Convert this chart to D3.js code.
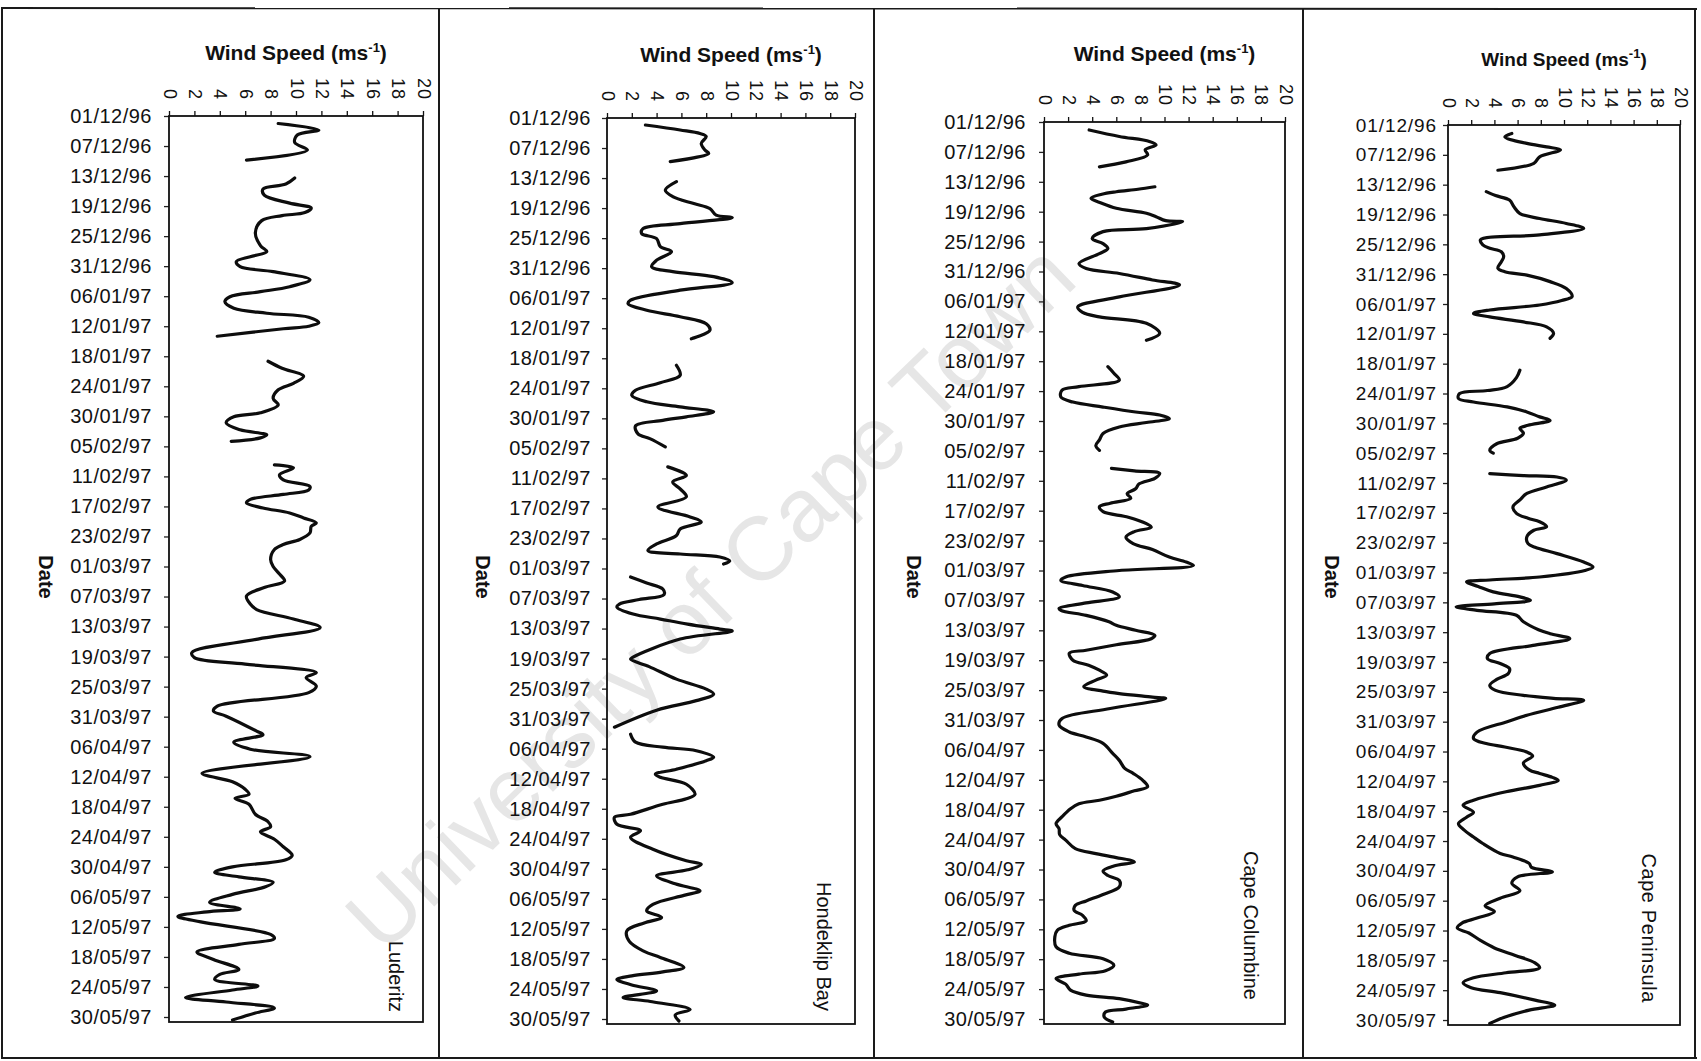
<!DOCTYPE html>
<html>
<head>
<meta charset="utf-8">
<script src="https://cdn.jsdelivr.net/npm/d3@7"></script>
<style>
  body { margin: 0; background: #fff; }
  svg { display: block; }
</style>
</head>
<body>
<svg id="chart" width="1701" height="1061"></svg>
<script>
// ---- Data -------------------------------------------------------------
// Daily mean wind speed (m/s) at four west-coast stations, 1 Dec 1996 - 30 May 1997.
// Each entry is [days since 01/12/96, speed]; null marks a break in the record.
const stations = ["Luderitz", "Hondeklip Bay", "Cape Columbine", "Cape Peninsula"];

const speedTicks = [0, 2, 4, 6, 8, 10, 12, 14, 16, 18, 20];

const dateTickLabels = [
  "01/12/96", "07/12/96", "13/12/96", "19/12/96", "25/12/96", "31/12/96",
  "06/01/97", "12/01/97", "18/01/97", "24/01/97", "30/01/97", "05/02/97",
  "11/02/97", "17/02/97", "23/02/97", "01/03/97", "07/03/97", "13/03/97",
  "19/03/97", "25/03/97", "31/03/97", "06/04/97", "12/04/97", "18/04/97",
  "24/04/97", "30/04/97", "06/05/97", "12/05/97", "18/05/97", "24/05/97",
  "30/05/97"
];

const luderitz = [
  [1.5,8.6],[2.8,11.8],[3.8,10.1],[5.3,9.9],[6.8,10.9],[8.8,6.1],
  null,
  [12.4,9.9],[13.6,9.2],[14.6,7.4],[15.8,7.5],[17.4,9.5],[18.4,11.2],[19.3,10.7],[19.9,8.9],
  [20.9,7.3],[23.3,6.8],[25.9,7.2],[27.1,7.7],[28.1,6.4],[29.1,5.3],[30.1,5.6],[31.1,8.2],
  [32.7,11.1],[34.1,9.5],[35.1,7.2],[36.1,4.8],[37.1,4.4],[38.4,5.1],[39.4,7.7],[40.2,11.0],
  [41.3,11.8],[42.0,11.0],[42.5,9.0],[44.0,3.8],
  null,
  [49.0,7.8],[50.4,8.9],[52.0,10.6],[53.4,9.8],[54.7,8.6],[56.4,8.2],[57.7,8.6],[59.3,7.2],
  [60.1,5.1],[61.3,4.5],[62.7,5.6],[63.7,7.7],[64.3,7.2],[65.0,4.9],
  null,
  [69.7,8.3],[70.3,9.8],[71.7,8.7],[72.7,9.0],[74.0,11.1],[74.7,11.0],[75.6,9.0],[76.6,6.4],
  [77.3,6.1],[78.3,7.4],[79.3,9.5],[80.3,10.6],[81.3,11.6],[82.0,11.2],[83.3,11.1],[84.6,10.3],
  [85.6,9.0],[86.6,8.3],[88.6,8.0],[90.0,8.2],[91.5,8.7],[92.9,9.1],[94.2,7.5],[95.9,6.1],
  [97.5,6.4],[98.6,6.9],[100.5,9.8],[102.2,11.9],[104.5,7.0],[107.2,1.8],[108.2,2.0],[109.5,6.0],
  [111.2,11.6],[112.2,10.8],[113.9,11.6],[115.2,11.0],[117.9,3.8],[118.9,3.5],[119.9,4.5],
  [122.9,6.9],[123.6,7.4],[125.1,5.1],[126.5,6.4],[128.0,11.1],[131.3,2.6],[133.0,5.0],
  [134.5,6.0],[135.5,6.3],[136.3,5.2],[137.5,6.3],[139.5,6.8],[141.0,7.8],[142.0,8.0],
  [143.0,7.2],[144.5,8.3],[146.0,9.0],[147.7,9.7],[148.6,9.2],[150.0,5.0],[151.1,3.6],
  [152.0,5.5],[153.1,8.2],[154.0,7.6],[155.5,5.0],[157.1,3.2],[158.4,5.6],[159.0,3.0],
  [159.9,0.7],[161.0,2.5],[163.5,8.0],[164.3,8.3],[165.5,5.5],[167.0,2.2],[168.5,3.5],
  [170.5,5.5],[171.5,4.0],[172.5,3.6],[173.8,7.0],[174.6,5.0],[176.1,1.3],[177.0,4.5],
  [178.2,8.3],[179.2,6.8],[180.6,5.0]
];

const hondeklipBay = [
  [1.4,3.1],[2.4,5.9],[3.1,7.5],[3.7,8.0],[5.1,7.6],[6.4,7.9],[7.1,8.2],[8.7,5.1],
  null,
  [12.7,5.6],[14.4,4.7],[15.7,5.3],[17.1,7.0],[18.1,8.3],[19.4,8.8],[19.9,10.1],[21.1,5.9],
  [22.1,2.9],[23.1,2.8],[24.1,4.0],[25.7,4.3],[26.7,5.2],[28.4,4.0],[29.7,3.6],[30.7,5.3],
  [31.7,8.6],[32.9,10.1],[34.4,5.9],[36.4,1.9],[37.1,1.7],[38.4,3.2],[39.7,5.9],[41.1,8.0],
  [42.4,8.3],[44.1,6.8],
  null,
  [49.4,5.6],[51.4,5.9],[52.9,4.3],[54.4,2.3],[55.4,2.0],[56.7,3.2],[57.7,5.9],[58.7,8.6],
  [59.7,6.4],[60.4,4.5],[61.5,2.3],[63.1,2.5],[64.1,3.5],[65.7,4.7],
  null,
  [69.7,4.9],[71.4,6.4],[72.7,5.3],[74.1,5.9],[75.7,6.4],[77.7,4.1],[79.7,6.7],[80.7,7.6],
  [82.1,5.9],[83.4,5.6],[85.1,4.0],[86.4,3.3],[87.1,5.9],[87.7,9.1],[88.5,9.9],[89.1,9.4],
  null,
  [91.7,1.9],[92.9,3.2],[94.1,4.5],[95.2,4.6],[96.2,2.6],[97.1,1.0],[97.7,0.8],[99.1,2.1],
  [100.1,4.3],[101.1,6.5],[102.1,9.1],[102.5,10.1],[104.1,5.9],[107.7,2.1],[108.1,1.9],
  [109.6,3.4],[112.1,5.6],[114.1,8.0],[115.1,8.6],[116.4,7.2],[118.3,4.0],[121.7,0.6],
  null,
  [123.1,1.9],[124.7,2.3],[125.7,4.5],[126.4,7.2],[127.7,8.6],[128.4,8.0],[130.1,5.6],
  [131.1,3.9],[131.7,4.3],[133.1,6.4],[135.1,7.1],[136.0,6.4],[137.1,4.5],[139.1,1.9],
  [139.7,0.6],[141.1,0.8],[142.4,2.7],[143.7,1.9],[146.1,3.7],[148.4,6.4],[149.1,7.6],
  [150.2,6.5],[151.4,4.0],[153.0,5.5],[154.4,7.5],[155.3,6.2],[157.1,3.7],[158.4,3.2],
  [159.7,4.4],[160.8,3.0],[162.4,1.6],[164.5,1.8],[166.5,3.0],[167.7,4.3],[169.7,6.2],
  [170.6,4.5],[171.4,2.0],[172.1,0.8],[173.2,2.0],[174.4,4.0],[175.7,1.3],[176.5,3.5],
  [178.1,6.7],[179.2,5.5],[180.4,5.8]
];

const capeColumbine = [
  [1.6,3.75],[2.9,6.25],[3.9,8.75],[4.6,9.3],[5.6,8.4],[6.6,8.6],[8.0,6.8],[9.0,4.6],
  null,
  [13.0,9.2],[13.5,7.8],[14.0,6.0],[14.5,4.8],[15.3,3.9],[16.3,4.8],[17.3,6.0],[18.3,8.5],
  [19.0,9.3],[19.8,10.1],[20.0,11.5],[21.4,8.5],[22.0,4.9],[23.4,4.0],[24.4,4.9],[25.4,5.3],
  [26.4,4.6],[28.4,2.9],[29.4,3.5],[30.4,6.25],[31.7,9.0],[32.7,11.25],[35.1,6.25],[37.1,2.8],
  [38.2,3.2],[39.1,4.6],[40.4,8.5],[42.4,9.6],[43.8,8.5],
  null,
  [49.1,5.3],[50.4,5.8],[51.8,6.25],[53.1,2.9],[53.8,1.5],[55.2,1.4],[56.2,2.4],[57.2,4.9],
  [58.2,7.6],[58.8,9.6],[59.5,10.4],[60.3,8.5],[61.2,6.25],[62.5,4.9],[63.8,4.6],[64.9,4.3],
  [65.9,4.6],
  null,
  [69.5,5.6],[70.0,7.5],[70.5,9.6],[71.5,9.2],[72.6,7.9],[73.6,7.6],[74.6,6.9],[75.5,7.2],
  [76.5,5.5],[77.2,4.6],[78.2,4.9],[79.3,7.0],[80.6,8.5],[81.3,8.9],[82.2,7.5],[83.3,6.8],
  [84.6,7.4],[85.8,9.0],[87.3,10.4],[88.3,11.8],[89.0,12.4],[90.0,6.25],[91.3,1.8],[92.0,1.4],
  [93.0,3.2],[94.3,5.7],[95.3,6.25],[96.5,3.5],[97.6,1.25],[98.0,1.4],[99.0,3.5],[100.3,5.4],
  [101.0,6.0],[102.0,7.6],[103.0,9.2],[103.7,8.9],[104.9,6.0],[106.0,3.5],[106.6,2.1],
  [108.0,2.4],[109.0,3.7],[110.0,4.6],[111.0,5.2],[112.0,4.3],[113.3,3.3],[114.2,4.9],
  [114.7,6.25],[115.4,9.0],[115.7,10.1],[117.7,5.5],[119.7,1.5],[121.0,1.25],[122.4,2.1],
  [123.4,3.5],[124.7,4.9],[126.7,5.7],[128.1,6.25],[129.7,6.7],[130.7,7.4],[132.1,8.2],
  [133.4,8.6],[134.2,7.5],[135.3,6.0],[136.1,4.6],[136.8,2.9],[137.8,2.2],[139.4,1.5],
  [140.8,1.0],[141.8,1.25],[143.0,1.3],[144.1,1.8],[145.8,2.6],[146.8,4.3],[147.6,6.0],
  [148.1,7.1],[148.5,7.5],[149.3,5.8],[150.3,4.9],[151.2,5.3],[152.2,6.25],[153.5,6.25],
  [155.0,4.9],[156.3,3.5],[157.2,2.6],[158.2,2.5],[159.2,3.2],[160.3,3.5],[161.2,2.1],
  [162.2,1.1],[163.5,0.9],[165.5,1.0],[166.8,2.1],[167.9,4.9],[169.2,5.8],[170.3,5.1],
  [171.0,2.9],[171.9,1.0],[173.0,1.8],[174.2,2.2],[175.2,3.5],[175.9,6.25],[176.9,8.2],
  [177.2,8.6],[178.0,6.8],[178.6,5.1],[179.6,5.0],[180.6,5.7]
];

const capePeninsula = [
  [1.7,5.5],[2.4,4.9],[3.7,6.8],[4.4,8.5],[5.0,9.7],[6.4,7.9],[7.7,7.4],[9.1,4.3],
  null,
  [13.4,3.3],[14.2,4.1],[15.1,5.3],[16.5,5.7],[17.8,6.2],[18.8,7.9],[19.8,10.2],[20.8,11.7],
  [22.1,7.9],[23.1,2.8],[24.1,3.0],[24.8,3.6],[25.5,4.6],[26.5,4.8],[27.5,4.6],[28.8,4.3],
  [29.5,4.9],[30.2,6.8],[31.5,8.8],[32.9,10.2],[34.5,10.7],[35.3,9.8],[36.2,7.9],[37.2,3.6],
  [37.9,2.2],[38.6,3.6],[39.6,6.5],[40.6,8.5],[41.9,9.1],[42.9,8.8],
  null,
  [49.3,6.2],[50.8,5.9],[52.6,5.1],[53.4,3.4],[54.0,1.0],[55.0,0.9],[55.7,2.2],[56.7,5.1],
  [57.7,6.8],[58.7,7.9],[59.4,8.8],[60.4,6.9],[61.0,6.2],[62.0,6.5],[63.0,6.0],[64.1,4.2],
  [65.4,3.6],[66.0,3.9],
  null,
  [70.1,3.6],[70.5,6.5],[70.8,9.4],[71.4,10.2],[72.8,8.5],[74.1,6.8],[75.4,6.2],[76.8,5.6],
  [78.1,5.9],[79.1,6.9],[79.8,7.9],[80.8,8.5],[81.5,7.4],[82.8,6.8],[84.2,6.9],[84.9,7.5],
  [86.2,9.4],[87.9,11.7],[88.9,12.5],[89.6,11.8],[90.9,7.9],[91.5,3.6],[91.9,1.6],[92.8,2.6],
  [93.9,3.9],[94.9,6.2],[95.6,7.1],[96.3,4.0],[96.9,0.7],[97.6,2.5],[98.6,5.9],[99.9,6.5],
  [101.5,7.8],[102.3,8.8],[103.3,10.5],[104.6,7.5],[106.3,3.6],[107.3,3.4],[108.3,4.5],
  [109.3,5.3],[110.3,5.2],[111.5,4.2],[112.7,3.6],[113.7,4.1],[114.7,6.5],[115.3,9.1],
  [115.7,11.7],[117.1,9.5],[118.7,6.8],[120.0,5.1],[122.1,2.5],[123.4,2.2],[124.4,3.3],
  [125.1,4.9],[126.1,6.8],[126.9,7.3],[128.3,6.5],[129.7,7.0],[130.4,7.9],[131.2,9.0],
  [131.8,9.5],[132.8,7.9],[134.1,5.0],[135.8,2.2],[136.8,1.3],[138.2,2.2],[139.2,1.6],
  [140.5,0.9],[141.8,1.4],[143.2,2.2],[144.5,3.0],[146.5,4.5],[147.2,5.6],[148.5,7.0],
  [149.3,7.2],[150.2,9.0],[151.2,6.0],[152.5,5.5],[154.0,6.2],[155.5,4.5],[157.0,3.2],
  [158.2,4.0],[159.5,2.5],[160.5,1.2],[161.5,0.8],[162.5,1.8],[164.0,2.8],[165.5,4.0],
  [167.0,5.8],[168.5,7.5],[169.5,7.9],[170.5,5.0],[171.5,2.2],[172.5,1.3],[173.5,2.0],
  [174.5,4.5],[176.0,7.5],[177.0,9.2],[178.0,7.0],[179.5,4.8],[180.7,3.6]
];

const seriesList = [luderitz, hondeklipBay, capeColumbine, capePeninsula];

// ---- Layout -----------------------------------------------------------
const panels = [
  { left: 169,  right: 423,  top: 116, bottom: 1022, titleY: 60, dateX: 46,   nameX: 396,  nameEnd: 1012, pad: 12 },
  { left: 607,  right: 855,  top: 118, bottom: 1024, titleY: 62, dateX: 483,  nameX: 824,  nameEnd: 1011, pad: 11 },
  { left: 1044, right: 1285, top: 122, bottom: 1024, titleY: 61, dateX: 914,  nameX: 1251, nameEnd: 1000, pad: 13 },
  { left: 1448, right: 1680, top: 125, bottom: 1025, titleY: 66, dateX: 1332, nameX: 1649, nameEnd: 1003, pad: 6 }
];

const FONT = "'Liberation Sans', Arial, Helvetica, sans-serif";
const svg = d3.select("#chart");

const parseDate = d3.utcParse("%d/%m/%y");
const fmtDate = d3.utcFormat("%d/%m/%y");
const startDate = parseDate(dateTickLabels[0]);
const endDate = d3.utcDay.offset(parseDate(dateTickLabels[dateTickLabels.length - 1]), 1);
const dayToDate = d => new Date(startDate.getTime() + d * 864e5);
const tickDates = dateTickLabels.map(parseDate);

// Watermark behind everything
svg.append("text")
  .attr("transform", "translate(710,597) rotate(-44)")
  .attr("text-anchor", "middle")
  .attr("dominant-baseline", "central")
  .attr("font-family", FONT)
  .attr("font-size", 90)
  .attr("fill", "#e6e6e6")
  .text("University of Cape Town");

// Panel borders
const border = svg.append("g").attr("stroke", "#1a1a1a").attr("stroke-width", 2).attr("fill", "none");
border.append("line").attr("x1", 1).attr("x2", 1697).attr("y1", 8).attr("y2", 9);
border.append("line").attr("x1", 1).attr("x2", 1697).attr("y1", 1058).attr("y2", 1058);
[2, 439, 874, 1303, 1695].forEach(x =>
  border.append("line").attr("x1", x).attr("x2", x).attr("y1", 8).attr("y2", 1058));

panels.forEach((p, i) => {
  const g = svg.append("g");

  const x = d3.scaleLinear().domain([0, 20]).range([p.left, p.right]);
  const y = d3.scaleUtc().domain([startDate, endDate]).range([p.top, p.bottom]);

  // Top speed axis with rotated labels
  const ax = g.append("g")
    .attr("transform", `translate(0,${p.top})`)
    .call(d3.axisTop(x).tickValues(speedTicks).tickSize(5).tickSizeOuter(0).tickFormat(d3.format("d")));
  ax.select(".domain").remove();
  ax.selectAll("line").attr("stroke", "#111").attr("stroke-width", 1.3);
  ax.selectAll("text")
    .attr("y", null).attr("dy", null)
    .attr("transform", "translate(0,-16) rotate(90)")
    .attr("text-anchor", "end")
    .attr("dominant-baseline", "central")
    .attr("font-family", FONT)
    .attr("font-size", 18)
    .attr("letter-spacing", 1)
    .attr("fill", "#111");

  // Left date axis
  const ay = g.append("g")
    .attr("transform", `translate(${p.left},0)`)
    .call(d3.axisLeft(y).tickValues(tickDates).tickFormat(fmtDate).tickSize(5).tickSizeOuter(0).tickPadding(p.pad));
  ay.select(".domain").remove();
  ay.selectAll("line").attr("stroke", "#222").attr("stroke-width", 1.3);
  ay.selectAll("text")
    .attr("font-family", FONT)
    .attr("font-size", i === 3 ? 19 : 20)
    .attr("letter-spacing", i === 3 ? 0.9 : 0.5)
    .attr("fill", "#111");

  // Plot frame
  g.append("rect")
    .attr("x", p.left).attr("y", p.top)
    .attr("width", p.right - p.left).attr("height", p.bottom - p.top)
    .attr("fill", "none").attr("stroke", "#111").attr("stroke-width", 1.8);

  // Axis titles
  const title = g.append("text")
    .attr("x", (p.left + p.right) / 2).attr("y", p.titleY)
    .attr("text-anchor", "middle")
    .attr("font-family", FONT)
    .attr("font-weight", "bold")
    .attr("font-size", i === 3 ? 19 : 21)
    .attr("fill", "#111");
  title.append("tspan").text("Wind Speed (ms");
  title.append("tspan").attr("dy", -8).attr("font-size", 13).text("-1");
  title.append("tspan").attr("dy", 8).text(")");

  g.append("text")
    .attr("transform", `translate(${p.dateX},577) rotate(90)`)
    .attr("text-anchor", "middle")
    .attr("dominant-baseline", "central")
    .attr("font-family", FONT)
    .attr("font-weight", "bold")
    .attr("font-size", 20)
    .attr("fill", "#111")
    .text("Date");

  // Station name inside the plot
  g.append("text")
    .attr("transform", `translate(${p.nameX},${p.nameEnd}) rotate(90)`)
    .attr("text-anchor", "end")
    .attr("dominant-baseline", "central")
    .attr("font-family", FONT)
    .attr("font-size", 20)
    .attr("letter-spacing", i === 3 ? 0.6 : 0)
    .attr("fill", "#111")
    .text(stations[i]);

  // Wind speed trace
  const line = d3.line()
    .defined(d => d !== null)
    .x(d => x(d[1]))
    .y(d => y(dayToDate(d[0])))
    .curve(d3.curveCatmullRom.alpha(0.5));

  g.append("path")
    .datum(seriesList[i])
    .attr("d", line)
    .attr("fill", "none")
    .attr("stroke", "#0d0d0d")
    .attr("stroke-width", 3.2)
    .attr("stroke-linejoin", "round")
    .attr("stroke-linecap", "round");
});
</script>
</body>
</html>
